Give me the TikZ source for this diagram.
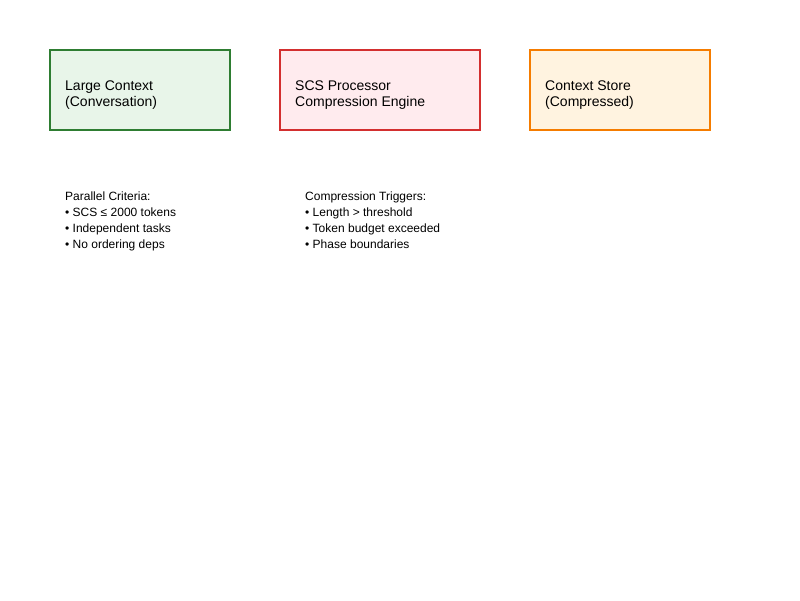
\documentclass[tikz,border=0pt]{standalone}
\usepackage{fontspec}
\setmainfont{Liberation Sans}
\definecolor{gline}{HTML}{2E7D32}\definecolor{gfill}{HTML}{E8F5E9}
\definecolor{rline}{HTML}{D32F2F}\definecolor{rfill}{HTML}{FFEBEE}
\definecolor{oline}{HTML}{F57C00}\definecolor{ofill}{HTML}{FFF3E0}
\begin{document}
\begin{tikzpicture}[x=1pt,y=-1pt,
  box/.style={draw, line width=2pt, minimum height=80pt, inner sep=0pt},
  boxtext/.style={anchor=west, align=left, inner sep=0pt, font=\fontsize{14}{16}\selectfont},
  note/.style={anchor=north west, align=left, inner sep=0pt, font=\fontsize{12}{16}\selectfont}]
\useasboundingbox (0,0) rectangle (800,600);
\node[box, draw=gline, fill=gfill, minimum width=180pt] (large) at (140,90) {};
\node[box, draw=rline, fill=rfill, minimum width=200pt] (scs) at (380,90) {};
\node[box, draw=oline, fill=ofill, minimum width=180pt] (store) at (620,90) {};
\node[boxtext] (t1) at (65,95) {Large Context\\(Conversation)};
\node[boxtext] (t2) at (295,95) {SCS Processor\\Compression Engine};
\node[boxtext] (t3) at (545,95) {Context Store\\(Compressed)};
\node[note] (n1) at (65,192) {Parallel Criteria:\\• SCS ≤ 2000 tokens\\• Independent tasks\\• No ordering deps};
\node[note] (n2) at (305,192) {Compression Triggers:\\• Length > threshold\\• Token budget exceeded\\• Phase boundaries};
\end{tikzpicture}
\end{document}
